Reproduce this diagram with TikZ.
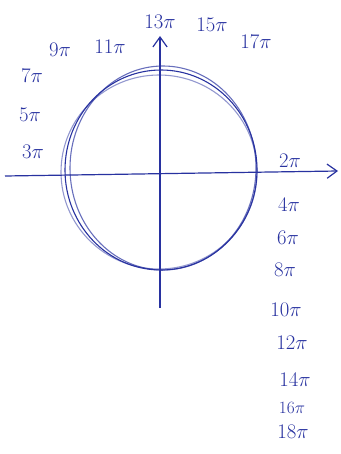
\documentclass[tikz,border=0pt]{standalone}
\usepackage{tikz}
\usetikzlibrary{arrows.meta, positioning}
\definecolor{ink}{RGB}{40,50,160}

\begin{document}
\begin{tikzpicture}[
    x=1pt, y=-1pt,
    anglelabel/.style={text=ink, font=\fontsize{21}{23}\selectfont, inner sep=1pt},
    axis/.style={draw=ink, line width=1.2pt, -{Straight Barb[length=3.5mm, width=5mm]}},
    sketch/.style={draw=ink, line width=1.1pt}
]
\useasboundingbox (0,0) rectangle (340,454);

% Circle (drawn over a few times)
\draw[sketch] (161,170) ellipse [x radius=96, y radius=100];
\draw[sketch, opacity=0.7] (163,168) ellipse [x radius=93, y radius=102];
\draw[sketch, opacity=0.5] (159,172) ellipse [x radius=98, y radius=97];

% Axes
\coordinate (xl) at (5,176);
\coordinate (xr) at (338,171);
\coordinate (yb) at (160,308);
\coordinate (yt) at (160,36);
\draw[axis] (xl) -- (xr);
\draw[axis] (yb) -- (yt);

% Left labels
\node[anglelabel] (p3) at (33,152) {$3\pi$};
\node[anglelabel] (p5) at (30,115) {$5\pi$};
\node[anglelabel] (p7) at (32,76) {$7\pi$};

% Top labels
\node[anglelabel] (p9) at (60,50) {$9\pi$};
\node[anglelabel] (p11) at (110,47) {$11\pi$};
\node[anglelabel] (p13) at (160,22) {$13\pi$};
\node[anglelabel] (p15) at (212,25) {$15\pi$};
\node[anglelabel] (p17) at (256,42) {$17\pi$};

% Right labels
\node[anglelabel] (p2) at (290,161) {$2\pi$};
\node[anglelabel] (p4) at (289,205) {$4\pi$};
\node[anglelabel] (p6) at (288,238) {$6\pi$};
\node[anglelabel] (p8) at (285,270) {$8\pi$};
\node[anglelabel] (p10) at (286,310) {$10\pi$};
\node[anglelabel] (p12) at (292,343) {$12\pi$};
\node[anglelabel] (p14) at (295,380) {$14\pi$};
\node[anglelabel, font=\fontsize{16}{18}\selectfont] (p16) at (292,408) {$16\pi$};
\node[anglelabel] (p18) at (293,432) {$18\pi$};
\end{tikzpicture}
\end{document}
